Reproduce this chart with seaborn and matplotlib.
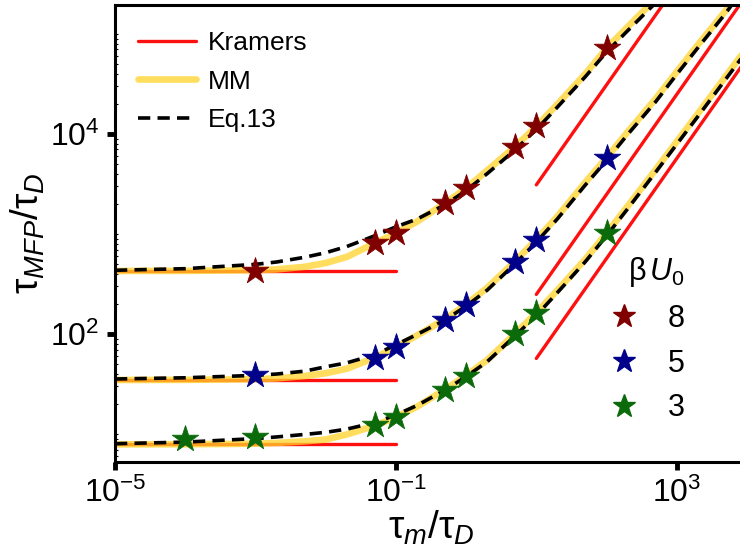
import numpy as np
import pandas as pd
import matplotlib
matplotlib.use("Agg")
import matplotlib.pyplot as plt
import seaborn as sns
from matplotlib.lines import Line2D
from matplotlib import ticker

# ---------------- data ----------------
tau_m_grid = [1e-5, 1e-4, 1e-3, 2e-3, 5e-3, 1e-2, 2e-2, 5e-2, 0.1, 0.2, 0.5,
              1.0, 2.0, 5.0, 10.0, 20.0, 50.0, 100.0, 200.0, 500.0,
              1e3, 2e3, 5e3, 1e4]

# MM (yellow)
mm_8 = [427, 428, 435, 443, 470, 513, 590, 810, 1017, 1330, 2027,
        2870, 4330, 7500, 11900, 19900, 40000, 72000, 118000, 225000,
        420000, 800000, 1.9e6, 3.7e6]
mm_5 = [34.7, 34.8, 35.3, 36.0, 38.0, 40.5, 45.0, 58.0, 73.6, 97, 140,
        198, 290, 535, 880, 1500, 3300, 5800, 10500, 22500,
        42000, 78000, 172000, 340000]
mm_3 = [7.88, 7.9, 8.0, 8.15, 8.45, 8.8, 9.9, 12.1, 14.7, 18.8, 27.8,
        38.5, 55, 101, 163, 275, 560, 1020, 1900, 4400,
        8400, 16000, 38000, 73000]

# Eq.13 (black dashed)
eq13_8 = [434, 450, 497, 525, 585, 650, 750, 960, 1180, 1410, 1960,
          2720, 4020, 6950, 11100, 18600, 37500, 66000, 108000, 205000,
          390000, 740000, 1.75e6, 3.4e6]
eq13_5 = [35.5, 36.5, 38.6, 39.8, 42.5, 47.0, 51.5, 62, 78, 99, 138,
          190, 275, 505, 830, 1420, 3100, 5450, 9900, 21000,
          39500, 73000, 162000, 320000]
eq13_3 = [8.0, 8.3, 9.0, 9.35, 9.9, 10.4, 11.2, 13.0, 15.5, 19.3, 27.5,
          37.5, 53, 96, 153, 260, 530, 960, 1790, 4150,
          7900, 15000, 35500, 68000]

# Kramers (red): low-tau_m plateau and high-tau_m branch
kramers_low_x = [1e-5, 1e-1]
kramers_low = {"8": 427, "5": 34.7, "3": 7.88}
kramers_high_x = [10.0, 1e4]
kramers_high = {"8": [3100, 3.1e6], "5": [249, 2.49e5], "3": [57, 5.7e4]}

# simulation stars
star_x_8 = [1e-3, 0.05, 0.1, 0.5, 1, 5, 10, 100]
star_y_8 = [425, 810, 1017, 2030, 2870, 7500, 11900, 72000]
star_x_5 = [1e-3, 0.05, 0.1, 0.5, 1, 5, 10, 100]
star_y_5 = [39.3, 58, 73.6, 138, 196, 530, 875, 5730]
star_x_3 = [1e-4, 1e-3, 0.05, 0.1, 0.5, 1, 5, 10, 100]
star_y_3 = [8.96, 9.3, 12.2, 14.7, 27.6, 38.4, 101, 161, 1020]

u0_labels = ["8", "5", "3"]
star_colors = {"8": "#800000", "5": "#00008B", "3": "#0B6B0B"}

# ---------------- style ----------------
sns.set_style("ticks")
plt.rcParams["font.family"] = ["Liberation Sans", "DejaVu Sans"]
plt.rcParams["mathtext.fontset"] = "custom"
plt.rcParams["mathtext.rm"] = "Liberation Sans"
plt.rcParams["mathtext.it"] = "Liberation Sans:italic"
plt.rcParams["mathtext.bf"] = "Liberation Sans:bold"
for key in ["text.color", "axes.labelcolor", "xtick.color", "ytick.color",
            "axes.edgecolor", "xtick.labelcolor", "ytick.labelcolor"]:
    plt.rcParams[key] = "black"

RED = "#FF1010"
YELLOW = "#FFD42A"
YALPHA = 0.75
DASH = (0, (3.4, 2.0))

fig = plt.figure(figsize=(7.4, 5.47), dpi=100)
ax = fig.add_axes([115 / 740, 85 / 547, 632 / 740, 457 / 547])

mm = {"8": mm_8, "5": mm_5, "3": mm_3}
eq = {"8": eq13_8, "5": eq13_5, "3": eq13_3}
stars = {"8": (star_x_8, star_y_8), "5": (star_x_5, star_y_5), "3": (star_x_3, star_y_3)}

for u in u0_labels:
    sns.lineplot(x=kramers_low_x, y=[kramers_low[u]] * 2, color=RED, lw=2.4,
                 ax=ax, zorder=1, estimator=None)
    sns.lineplot(x=kramers_high_x, y=kramers_high[u], color=RED, lw=2.4,
                 ax=ax, zorder=1, estimator=None)
for u in u0_labels:
    sns.lineplot(x=tau_m_grid, y=mm[u], color=YELLOW, alpha=YALPHA, lw=4.8,
                 ax=ax, zorder=2, estimator=None)
for u in u0_labels:
    sns.lineplot(x=tau_m_grid, y=eq[u], color="black", lw=2.6, linestyle=DASH,
                 ax=ax, zorder=3, estimator=None)
for u in u0_labels:
    sx, sy = stars[u]
    sns.scatterplot(x=sx, y=sy, marker="*", s=400, color=star_colors[u],
                    edgecolor=star_colors[u], linewidth=0.6, ax=ax, zorder=5,
                    legend=False)

ax.set_xscale("log")
ax.set_yscale("log")
ax.set_xlim(1e-5, 1e4)
ax.set_ylim(5.25, 1.95e5)

ax.xaxis.set_major_locator(ticker.FixedLocator([1e-5, 1e-1, 1e3]))
ax.xaxis.set_minor_locator(ticker.NullLocator())
ax.yaxis.set_major_locator(ticker.FixedLocator([1e2, 1e4]))
ax.yaxis.set_minor_locator(ticker.LogLocator(base=10, subs=np.arange(1, 10), numticks=30))
ax.xaxis.set_major_formatter(ticker.LogFormatterSciNotation())
ax.yaxis.set_major_formatter(ticker.LogFormatterSciNotation())
ax.yaxis.set_minor_formatter(ticker.NullFormatter())

for side in ["left", "bottom", "top", "right"]:
    ax.spines[side].set_linewidth(2.2)
    ax.spines[side].set_color("black")
ax.tick_params(which="major", direction="out", length=6, width=3.5, labelsize=23, pad=5,
               color="black", labelcolor="black")
ax.tick_params(which="minor", axis="y", direction="in", length=2, width=0.8, color="black")

ax.set_xlabel(r"$\mathrm{\tau}_m/\mathrm{\tau}_D$", fontsize=28, labelpad=0)
ax.set_ylabel(r"$\mathrm{\tau}_{MFP}/\mathrm{\tau}_D$", fontsize=28, labelpad=2)

h1 = [Line2D([], [], color=RED, lw=2.4),
      Line2D([], [], color=YELLOW, alpha=YALPHA, lw=4.8),
      Line2D([], [], color="black", lw=2.6, linestyle=DASH)]
leg1 = ax.legend(h1, ["Kramers", "MM", "Eq.13"], loc="upper left", frameon=False,
                 fontsize=19, handlelength=2.2, labelspacing=0.55, handletextpad=0.45,
                 bbox_to_anchor=(0.0196, 0.966), borderaxespad=0)
ax.add_artist(leg1)

h2 = [Line2D([], [], marker="*", ls="none", ms=17, color=star_colors[u]) for u in u0_labels]
leg2 = ax.legend(h2, u0_labels, title=r"$\mathrm{\beta}\,U_0$", frameon=False,
                 fontsize=22, title_fontsize=22, loc="upper left",
                 bbox_to_anchor=(581 / 740, 1 - 243 / 547), bbox_transform=fig.transFigure,
                 borderaxespad=0, labelspacing=0.48, handletextpad=0.45,
                 alignment="right")

fig.savefig("out.png", dpi=100)
